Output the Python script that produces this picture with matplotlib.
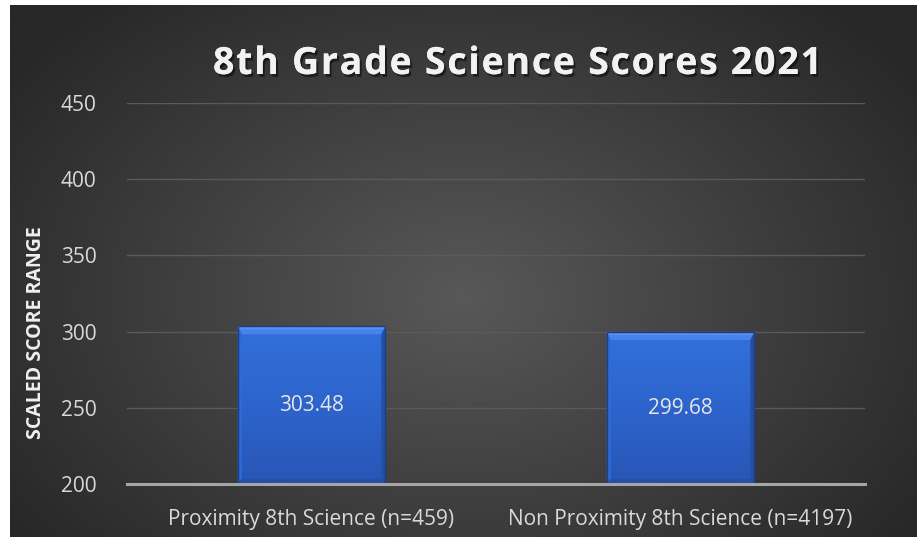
import numpy as np
import matplotlib
matplotlib.use("Agg")
import matplotlib.pyplot as plt
import matplotlib.patheffects as pe
from matplotlib.patches import Polygon
from matplotlib.font_manager import FontProperties

categories = ["Proximity 8th Science (n=459)", "Non Proximity 8th Science (n=4197)"]
values = [303.48, 299.68]
value_labels = ["303.48", "299.68"]
yticks = [200, 250, 300, 350, 400, 450]
title = "8th Grade Science Scores 2021"
ylabel = "SCALED SCORE RANGE"

W, H = 917, 537
fig = plt.figure(figsize=(W / 100, H / 100), dpi=100)
fig.patch.set_facecolor("white")

# background panel with radial gradient
bx0, by0 = 10 / W, 0.0
bx1, by1 = 1.0, 1 - 5 / H
bg = fig.add_axes([bx0, by0, bx1 - bx0, by1 - by0], zorder=0)
yy, xx = np.mgrid[0:1:300j, 0:1:500j]
r = np.sqrt(((xx - 0.5) / 0.62) ** 2 + ((yy - 0.45) / 0.75) ** 2)
r = np.clip(r, 0, 1)
inner = np.array([0x58, 0x58, 0x58]) / 255
outer = np.array([0x27, 0x27, 0x27]) / 255
img = inner[None, None, :] * (1 - r[..., None]) + outer[None, None, :] * r[..., None]
bg.imshow(img, extent=[0, 1, 0, 1], aspect="auto", origin="lower")
bg.axis("off")

left, right = 127 / W, 865 / W
bottom, top = 1 - 484 / H, 1 - 103 / H
ax = fig.add_axes([left, bottom, right - left, top - bottom], zorder=1)
ax.patch.set_alpha(0)

ax.set_xlim(-0.5, len(categories) - 0.5)
ax.set_ylim(yticks[0], yticks[-1])

x = np.arange(len(categories))
bars = ax.bar(x, [v - yticks[0] for v in values], bottom=yticks[0], width=0.4,
              color="#2f68d2", edgecolor="none", linewidth=0, zorder=3)

# pixel -> data scale for bevel
px_x = (len(categories)) / (W * (right - left))
px_y = (yticks[-1] - yticks[0]) / (H * (top - bottom))
bev = 8
grad = np.linspace(0, 1, 100)[:, None]
cmap = matplotlib.colors.LinearSegmentedColormap.from_list(
    "b", ["#2856b6", "#2d64cc", "#3270da"])
for b in bars:
    x0, w = b.get_x(), b.get_width()
    y0, h = b.get_y(), b.get_height()
    x1, y1 = x0 + w, y0 + h
    im = ax.imshow(grad, extent=[x0, x1, y0, y1], aspect="auto",
                   origin="lower", cmap=cmap, zorder=3.5)
    im.set_clip_path(b)
    dx, dy = bev * px_x, bev * px_y
    dyb = 5 * px_y
    dxs = 4 * px_x
    # top bevel
    ax.add_patch(Polygon([(x0, y1), (x1, y1), (x1 - dxs, y1 - dy), (x0 + dxs, y1 - dy)],
                         closed=True, facecolor="#4683ea", edgecolor="none", zorder=3.6))
    ax.add_patch(Polygon([(x0, y1), (x1, y1), (x1 - 1.5 * px_x, y1 - 3 * px_y),
                          (x0 + 1.5 * px_x, y1 - 3 * px_y)],
                         closed=True, facecolor="#5892f0", edgecolor="none", zorder=3.61))
    # left bevel
    ax.add_patch(Polygon([(x0, y1), (x0 + dxs, y1 - dy), (x0 + dxs, y0 + dyb), (x0, y0)],
                         closed=True, facecolor="#2f6ad6", edgecolor="none", zorder=3.6))
    # right bevel
    ax.add_patch(Polygon([(x1, y1), (x1 - dxs, y1 - dy), (x1 - dxs, y0 + dyb), (x1, y0)],
                         closed=True, facecolor="#234fa6", edgecolor="none", zorder=3.6))
    # bottom bevel
    ax.add_patch(Polygon([(x0, y0), (x1, y0), (x1 - dxs, y0 + dyb), (x0 + dxs, y0 + dyb)],
                         closed=True, facecolor="#2450a8", edgecolor="none", zorder=3.6))
    ax.bar(x0 + w / 2, h, bottom=y0, width=w, facecolor="none",
           edgecolor="#1a3f86", linewidth=1.0, zorder=3.7)

for xi, v, lab in zip(x, values, value_labels):
    ax.text(xi, (yticks[0] + v) / 2, lab, ha="center", va="center",
            color="#e6e6e6", fontsize=15, family="Open Sans", zorder=5)

ax.set_yticks(yticks)
ax.set_yticklabels([str(t) for t in yticks])
ax.set_xticks(x)
ax.set_xticklabels(categories)
ax.tick_params(axis="both", length=0, colors="#d9d9d9", labelsize=15)
ax.tick_params(axis="y", pad=22)
ax.tick_params(axis="x", pad=18)
for lab in ax.get_xticklabels() + ax.get_yticklabels():
    lab.set_family("Open Sans")
ax.grid(axis="y", color="#5a5a5a", linewidth=1.0, zorder=1)
for s in ["top", "right", "left"]:
    ax.spines[s].set_visible(False)
ax.spines["bottom"].set_color("#a6a6a6")
ax.spines["bottom"].set_linewidth(2.2)
ax.spines["bottom"].set_zorder(4)

fig.text(36 / W, 1 - 333 / H, ylabel, rotation=90, ha="center", va="center",
         color="#f0f0f0", fontsize=14, fontweight="bold", family="Open Sans", zorder=5)

# title with letter spacing
fp = FontProperties(family="Open Sans", weight="bold", size=27)
renderer = fig.canvas.get_renderer()
def tw(s):
    return renderer.get_text_width_height_descent(s, fp, ismath=False)[0]
space_w = tw("a a") - tw("aa")
widths = [space_w if c == " " else tw(c) for c in title]
target_left, target_right = 213, 822
natural = sum(widths)
track = (target_right - target_left - natural) / (len(title) - 1)
cx = target_left
ty = 1 - 64 / H
for c, wdt in zip(title, widths):
    if c != " ":
        t = fig.text(cx / W, ty, c, ha="left", va="center", color="#f2f2f2",
                     fontproperties=fp, zorder=5)
        t.set_path_effects([pe.withSimplePatchShadow(offset=(1.5, -2), shadow_rgbFace="black", alpha=0.5),
                            pe.Normal()])
    cx += wdt + track

fig.savefig("out.png", dpi=100, facecolor=fig.get_facecolor())
